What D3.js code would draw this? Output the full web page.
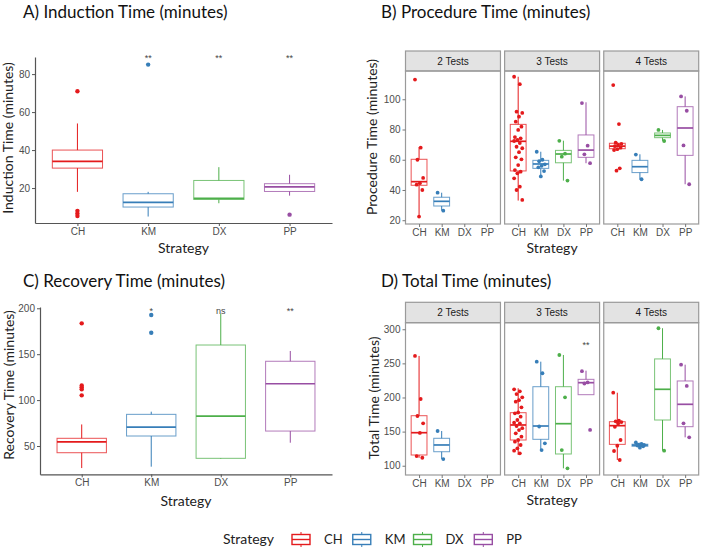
<!DOCTYPE html>
<html>
<head>
<meta charset="utf-8">
<script src="https://cdn.jsdelivr.net/npm/d3@7"></script>
<style>
  body { margin: 0; background: #fff; }
  svg { display: block; }
</style>
</head>
<body>
<svg id="chart" width="702" height="555"></svg>
<script>
// ---- data ----
const strategies = ['CH', 'KM', 'DX', 'PP'];
const palette    = ['#e41a1c', '#377eb8', '#4daf4a', '#984ea3'];
const facets     = ['2 Tests', '3 Tests', '4 Tests'];

// box stats: [lower whisker, Q1, median, Q3, upper whisker]
const inductionBox = [[18, 30.5, 34, 40, 54], [5, 10, 12.5, 17, 18], [12, 14, 14.6, 24, 31], [16, 18.2, 20.6, 22.3, 27]];
const inductionOut = [[71, 8, 6.6, 5.3], [85], [], [6]];
const inductionSig = ['', '**', '**', '**'];
const inductionTicks = [20, 40, 60, 80];

const recoveryBox = [[26, 42.7, 54.5, 58.4, 73.5], [27.5, 60.9, 70.5, 84.5, 87.4], [36, 36.6, 82.5, 160, 194], [53.6, 66.3, 117.8, 142.3, 153.5]];
const recoveryOut = [[183.6, 116, 113.9, 111.7, 105.2], [192.7, 173.4], [], []];
const recoverySig = ['', '*', 'ns', '**'];
const recoveryTicks = [50, 100, 150, 200];

const procedureBox = [
  [[22.4, 43.1, 45.5, 60.3, 68.4], [26.3, 29.4, 32.5, 35.2, 38.2], null, null],
  [[33, 52.6, 72.2, 83.4, 114.9], [49.3, 54.3, 57.2, 59.6, 65.3], [46.2, 58, 63.8, 66.2, 72.6], [57.7, 61.6, 66.4, 76.4, 98]],
  [[66, 67.3, 69, 70.9, 71.5], [47, 51.5, 55.4, 59.6, 63.6], [72.5, 74.6, 76.1, 77.7, 79.7], [43.8, 62.9, 81, 95.1, 101.9]]
];
const procedurePts = [
  [[113, 68, 60, 48, 44.5, 43.5, 40, 22.4], [38.2, 26.3], [], []],
  [[114.9, 110, 91.8, 91, 88.5, 85.2, 81.9, 79.7, 75, 74.2, 73.1, 72.4, 71, 68.6, 67.6, 65, 61.6, 60.3, 56.5, 53.2, 52.1, 51, 47.7, 42.2, 40, 33.4],
   [65.3, 60, 59, 57, 56, 55, 52.5, 49], [72.5, 64, 62, 46.2], [97.5, 69.3, 63.6, 57.7]],
  [[109.4, 83.6, 71.3, 70.5, 69.8, 69, 68, 67, 66.4, 54.3, 52.8], [63.4, 47.1], [79.7, 72.4], [101.9, 92.4, 69.5, 43.8]]
];
const procedureSig = [['', '', '', ''], ['', '', '', ''], ['', '', '', '']];
const procedureTicks = [20, 40, 60, 80, 100];

const totalBox = [
  [[111.6, 115.7, 148.4, 173.3, 260.9], [109.8, 120.5, 130.4, 140.2, 150.9], null, null],
  [[115.7, 137.7, 159.7, 177.7, 213.5], [123, 138.7, 158.2, 215.8, 252.5], [96.2, 117.2, 161.6, 215.8, 262.3], [204.1, 204.1, 221.7, 226.6, 239.3]],
  [[108.4, 131.3, 158.7, 164.5, 207], [126, 128.5, 130.2, 131.5, 134], [122, 167, 212, 256.5, 301.5], [141.6, 157.2, 190, 224.2, 248.1]]
];
const totalPts = [
  [[260.9, 197.8, 172.9, 162.2, 148, 114.2, 111.7], [150.9, 109.8], [], []],
  [[212, 209, 205, 200.3, 196, 193.9, 185.6, 178, 176.8, 171.9, 167, 163, 162.2, 158.2, 155, 152.3, 147.5, 142.5, 137.7, 135.2, 130.4, 125.5, 122, 118.2],
   [252.5, 235.5, 157.5, 132.8, 123], [262.3, 200.3, 123, 96.2], [238.5, 222, 220.5, 152.4]],
  [[207, 166, 165, 164, 162, 157, 137.7, 129.3, 121.6, 108.4], [134, 132, 131, 130.5, 130, 129.5, 128.5, 126.5], [301.5, 122], [248.1, 216.9, 162.2, 141.6]]
];
const totalSig = [['', '', '', ''], ['', '', '', '**'], ['', '', '', '']];
const totalTicks = [100, 150, 200, 250, 300];

// ---- helpers ----
const svg = d3.select('#chart');
const tickFont = 'Liberation Sans, Arial, sans-serif';
const labelFont = 'Lato, Liberation Sans, sans-serif';

function jitter(i) {
  // deterministic spread for point positions
  return ((i * 7) % 11) / 10 - 0.5;
}

function drawBoxes(g, x, y, stats, boxW) {
  const data = stats.map((s, i) => ({ s, i })).filter(d => d.s);
  const grp = g.selectAll('.box')
    .data(data)
    .enter()
    .append('g')
    .classed('box', true)
    .attr('stroke', d => palette[d.i])
    .attr('fill', 'none');

  grp.append('line')
    .attr('x1', d => x(strategies[d.i])).attr('x2', d => x(strategies[d.i]))
    .attr('y1', d => y(d.s[4])).attr('y2', d => y(d.s[3]));
  grp.append('line')
    .attr('x1', d => x(strategies[d.i])).attr('x2', d => x(strategies[d.i]))
    .attr('y1', d => y(d.s[1])).attr('y2', d => y(d.s[0]));
  grp.append('rect')
    .attr('x', d => x(strategies[d.i]) - boxW / 2)
    .attr('y', d => y(d.s[3]))
    .attr('width', boxW)
    .attr('height', d => Math.max(0.5, y(d.s[1]) - y(d.s[3])))
    .attr('stroke-opacity', 0.75);
  grp.append('line')
    .attr('x1', d => x(strategies[d.i]) - boxW / 2).attr('x2', d => x(strategies[d.i]) + boxW / 2)
    .attr('y1', d => y(d.s[2])).attr('y2', d => y(d.s[2]))
    .attr('stroke-width', 1.7);
}

function drawPoints(g, x, y, pts, spread, r) {
  const flat = [];
  pts.forEach((arr, i) => arr.forEach((v, j) => flat.push({ v, i, j })));
  g.selectAll('.pt')
    .data(flat)
    .enter()
    .append('circle')
    .classed('pt', true)
    .attr('cx', d => x(strategies[d.i]) + jitter(d.j) * spread)
    .attr('cy', d => y(d.v))
    .attr('r', r)
    .attr('fill', d => palette[d.i]);
}

function drawSig(g, x, y, sig, sigY) {
  g.selectAll('.sig')
    .data(sig.map((t, i) => ({ t, i })).filter(d => d.t))
    .enter()
    .append('text')
    .classed('sig', true)
    .attr('x', d => x(strategies[d.i]))
    .attr('y', y(sigY))
    .attr('text-anchor', 'middle')
    .attr('dy', '0.35em')
    .attr('font-family', tickFont)
    .attr('font-size', '9px')
    .attr('fill', '#444')
    .text(d => d.t);
}

function styleAxis(a, lineColor) {
  a.selectAll('path, line').attr('stroke', lineColor);
  a.selectAll('text')
    .attr('font-family', tickFont)
    .attr('font-size', '10px')
    .attr('fill', '#4d4d4d');
}

function addTitle(x, y, text) {
  svg.append('text')
    .attr('x', x).attr('y', y)
    .attr('font-family', labelFont)
    .attr('font-size', '17px')
    .attr('fill', '#111')
    .text(text);
}

function addAxisTitles(xc, yb, ylx, yly, ylabel) {
  svg.append('text')
    .attr('x', xc).attr('y', yb)
    .attr('text-anchor', 'middle')
    .attr('font-family', labelFont)
    .attr('font-size', '14px')
    .attr('fill', '#222')
    .text('Strategy');
  svg.append('text')
    .attr('transform', `translate(${ylx}, ${yly}) rotate(-90)`)
    .attr('text-anchor', 'middle')
    .attr('font-family', labelFont)
    .attr('font-size', '14px')
    .attr('fill', '#222')
    .text(ylabel);
}

// simple (classic theme) panel
function simplePanel(o) {
  const x = d3.scalePoint().domain(strategies).range(o.xRange).padding(0.6),
        y = d3.scaleLinear().domain(o.yDomain).range(o.yRange),
        g = svg.append('g');

  const ya = g.append('g')
    .attr('transform', `translate(${o.xRange[0]},0)`)
    .call(d3.axisLeft(y).tickValues(o.ticks).tickSize(3).tickSizeOuter(0).tickPadding(2));
  const xa = g.append('g')
    .attr('transform', `translate(0,${o.yRange[0]})`)
    .call(d3.axisBottom(x).tickSize(3).tickSizeOuter(0).tickPadding(2));
  styleAxis(ya, '#555');
  styleAxis(xa, '#555');
  ya.select('.domain').attr('stroke-width', 1.2);
  xa.select('.domain').attr('stroke-width', 1.2);

  const boxW = x.step() * 0.71;
  drawBoxes(g, x, y, o.box, boxW);
  drawPoints(g, x, y, o.out, 0, 2.2);
  drawSig(g, x, y, o.sig, o.sigY);

  addTitle(o.titleX, o.titleY, o.title);
  addAxisTitles((o.xRange[0] + o.xRange[1]) / 2, o.xTitleY, o.yTitleX, o.yTitleY, o.ylabel);
}

// faceted (bordered) panel
function facetPanel(o) {
  const fx = d3.scaleBand().domain(facets).range(o.xRange).paddingInner(0.042),
        y  = d3.scaleLinear().domain(o.yDomain).range(o.yRange),
        g  = svg.append('g');

  facets.forEach((f, k) => {
    const x0 = fx(f), x1 = x0 + fx.bandwidth(),
          x  = d3.scalePoint().domain(strategies).range([x0, x1]).padding(0.6),
          fg = g.append('g');

    fg.append('rect')
      .attr('x', x0).attr('y', o.stripTop)
      .attr('width', fx.bandwidth()).attr('height', o.yRange[1] - o.stripTop)
      .attr('fill', '#e3e3e3').attr('stroke', '#9a9a9a').attr('stroke-width', 1.2);
    fg.append('text')
      .attr('x', (x0 + x1) / 2).attr('y', (o.stripTop + o.yRange[1]) / 2)
      .attr('dy', '0.35em').attr('text-anchor', 'middle')
      .attr('font-family', tickFont).attr('font-size', '10px').attr('fill', '#1a1a1a')
      .text(f);
    fg.append('rect')
      .attr('x', x0).attr('y', o.yRange[1])
      .attr('width', fx.bandwidth()).attr('height', o.yRange[0] - o.yRange[1])
      .attr('fill', 'none').attr('stroke', '#9a9a9a').attr('stroke-width', 1.2);

    const xa = fg.append('g')
      .attr('transform', `translate(0,${o.yRange[0]})`)
      .call(d3.axisBottom(x).tickSize(3).tickSizeOuter(0).tickPadding(2));
    styleAxis(xa, '#777');
    xa.select('.domain').remove();

    const boxW = x.step() * 0.7;
    drawBoxes(fg, x, y, o.box[k], boxW);
    drawPoints(fg, x, y, o.pts[k], x.step() * 0.36, 1.9);
    drawSig(fg, x, y, o.sig[k], o.sigY);

    if (k === 0) {
      const ya = fg.append('g')
        .attr('transform', `translate(${x0},0)`)
        .call(d3.axisLeft(y).tickValues(o.ticks).tickSize(3).tickSizeOuter(0).tickPadding(2));
      styleAxis(ya, '#777');
      ya.select('.domain').remove();
    }
  });

  addTitle(o.titleX, o.titleY, o.title);
  addAxisTitles((o.xRange[0] + o.xRange[1]) / 2, o.xTitleY, o.yTitleX, o.yTitleY, o.ylabel);
}

// ---- panels ----
simplePanel({
  title: 'A) Induction Time (minutes)', titleX: 23, titleY: 18,
  ylabel: 'Induction Time (minutes)', yTitleX: 13, yTitleY: 138, xTitleY: 253,
  xRange: [35, 332], yDomain: [1.6, 89], yRange: [223, 57],
  ticks: inductionTicks, box: inductionBox, out: inductionOut, sig: inductionSig, sigY: 88.5
});

facetPanel({
  title: 'B) Procedure Time (minutes)', titleX: 381, titleY: 18,
  ylabel: 'Procedure  Time (minutes)', yTitleX: 377, yTitleY: 137, xTitleY: 253,
  xRange: [405.5, 698.7], yDomain: [17.5, 118.7], yRange: [224, 71], stripTop: 51,
  ticks: procedureTicks, box: procedureBox, pts: procedurePts, sig: procedureSig, sigY: 115
});

simplePanel({
  title: 'C) Recovery Time (minutes)', titleX: 23, titleY: 287,
  ylabel: 'Recovery Time (minutes)', yTitleX: 14, yTitleY: 385, xTitleY: 506,
  xRange: [40, 332], yDomain: [19.2, 201.4], yRange: [474.3, 307],
  ticks: recoveryTicks, box: recoveryBox, out: recoveryOut, sig: recoverySig, sigY: 197
});

facetPanel({
  title: 'D) Total Time (minutes)', titleX: 381, titleY: 287,
  ylabel: 'Total Time (minutes)', yTitleX: 379, yTitleY: 398, xTitleY: 505,
  xRange: [405.5, 698.7], yDomain: [86.4, 309.6], yRange: [475, 322.7], stripTop: 302.3,
  ticks: totalTicks, box: totalBox, pts: totalPts, sig: totalSig, sigY: 277
});

// ---- legend ----
const legend = svg.append('g');
legend.append('text')
  .attr('x', 223).attr('y', 539).attr('dy', '0.35em')
  .attr('font-family', labelFont).attr('font-size', '14px').attr('fill', '#222')
  .text('Strategy');

const keyX = d3.scalePoint().domain(strategies).range([291, 473.3]);
const keys = legend.selectAll('.key')
  .data(strategies)
  .enter()
  .append('g')
  .classed('key', true)
  .attr('transform', d => `translate(${keyX(d)}, 532)`)
  .attr('stroke', (d, i) => palette[i])
  .attr('fill', 'none');
keys.append('rect').attr('x', 1).attr('y', 2.5).attr('width', 18).attr('height', 10).attr('stroke-width', 1.4);
keys.append('line').attr('x1', 1).attr('x2', 19).attr('y1', 7.5).attr('y2', 7.5).attr('stroke-width', 1.4);
keys.append('line').attr('x1', 10).attr('x2', 10).attr('y1', 0).attr('y2', 2.5);
keys.append('line').attr('x1', 10).attr('x2', 10).attr('y1', 12.5).attr('y2', 15);
keys.append('text')
  .attr('x', 33).attr('y', 7.5).attr('dy', '0.35em')
  .attr('stroke', 'none').attr('fill', '#222')
  .attr('font-family', labelFont).attr('font-size', '13px')
  .text(d => d);
</script>
</body>
</html>
